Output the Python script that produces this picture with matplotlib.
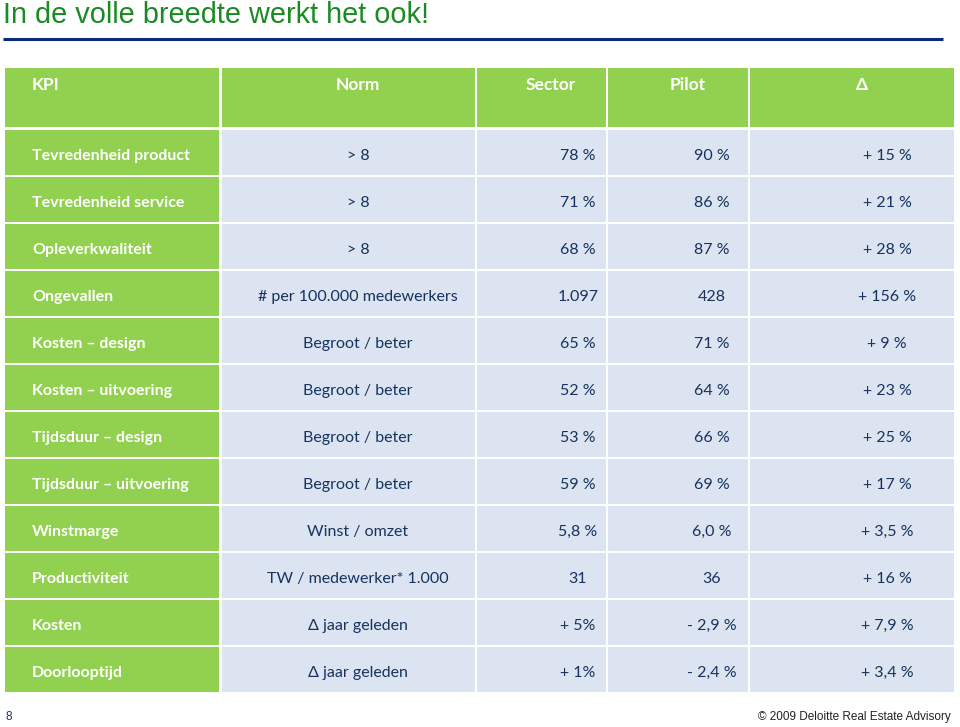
import matplotlib
matplotlib.use("Agg")
import matplotlib.pyplot as plt
from matplotlib.patches import Rectangle

# ---- data ----
headers = ["KPI", "Norm", "Sector", "Pilot", "Δ"]
kpi = ["Tevredenheid product", "Tevredenheid service", "Opleverkwaliteit", "Ongevallen",
       "Kosten – design", "Kosten – uitvoering", "Tijdsduur – design", "Tijdsduur – uitvoering",
       "Winstmarge", "Productiviteit", "Kosten", "Doorlooptijd"]
norm = ["> 8", "> 8", "> 8", "# per 100.000 medewerkers", "Begroot / beter", "Begroot / beter",
        "Begroot / beter", "Begroot / beter", "Winst / omzet", "TW / medewerker* 1.000",
        "Δ jaar geleden", "Δ jaar geleden"]
sector = ["78 %", "71 %", "68 %", "1.097", "65 %", "52 %", "53 %", "59 %", "5,8 %", "31", "+ 5%", "+ 1%"]
pilot = ["90 %", "86 %", "87 %", "428", "71 %", "64 %", "66 %", "69 %", "6,0 %", "36", "- 2,9 %", "- 2,4 %"]
delta = ["+ 15 %", "+ 21 %", "+ 28 %", "+ 156 %", "+ 9 %", "+ 23 %", "+ 25 %", "+ 17 %",
         "+ 3,5 %", "+ 16 %", "+ 7,9 %", "+ 3,4 %"]

# ---- layout (pixels) ----
W, H = 960, 727
col_edges = [(5, 219), (222, 475), (477, 606), (608, 748), (750, 954)]
header_top, header_bot = 68, 127
row0, pitch, row_h = 130, 47, 45
GREEN = "#92d050"
LIGHT = "#dbe4f0"
NAVY = "#17325f"
FONT = ["Lato", "DejaVu Sans"]
head_x = [32, 358, 551, 688, 862]
head_ha = ["left", "center", "center", "center", "center"]
val_x = [32, 358, 578, 712, 887]

fig = plt.figure(figsize=(W / 100, H / 100), dpi=100)
ax = fig.add_axes([0, 0, 1, 1])
ax.set_xlim(0, W)
ax.set_ylim(H, 0)
ax.axis("off")

# title and rule
ax.text(3, 15, "In de volle breedte werkt het ook!", fontsize=20.8, color="#1a8a22",
        family=["Liberation Sans", "DejaVu Sans"], va="center", ha="left")
ax.plot([3, 943], [38.5, 38.5], color="#0b2a7c", lw=2.2, solid_capstyle="butt")

# header
for j, (x0, x1) in enumerate(col_edges):
    ax.add_patch(Rectangle((x0, header_top), x1 - x0, header_bot - header_top,
                           facecolor=GREEN, edgecolor="none"))
    ax.text(head_x[j], 90.5, headers[j], ha=head_ha[j], va="baseline", color="white",
            fontsize=12.5, fontweight="bold", family=FONT)

# body
cols = [kpi, norm, sector, pilot, delta]
for i in range(len(kpi)):
    top = row0 + i * pitch
    yb = top + 30
    for j, (x0, x1) in enumerate(col_edges):
        ax.add_patch(Rectangle((x0, top), x1 - x0, row_h,
                               facecolor=GREEN if j == 0 else LIGHT, edgecolor="none"))
        if j == 0:
            ax.text(val_x[j], yb, cols[j][i], ha="left", va="baseline", color="white",
                    fontsize=11.5, fontweight="bold", family=FONT)
        else:
            ax.text(val_x[j], yb, cols[j][i], ha="center", va="baseline", color=NAVY,
                    fontsize=11.5, family=FONT)

# footer
ax.text(5, 717, "8", fontsize=8.5, color="#1a3466", family=["Liberation Sans", "DejaVu Sans"],
        va="center", ha="left")
ax.text(951, 717, "© 2009 Deloitte Real Estate Advisory", fontsize=8.5, color="#222222",
        family=["Liberation Sans", "DejaVu Sans"], va="center", ha="right")

fig.savefig("out.png", dpi=100)
